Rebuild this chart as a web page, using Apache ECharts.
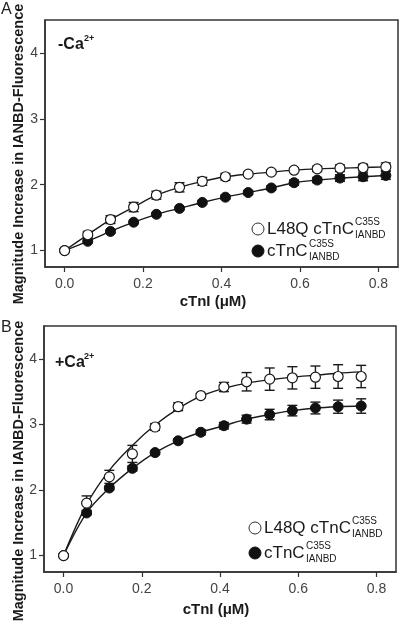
<!DOCTYPE html>
<html><head><meta charset="utf-8">
<script src="https://cdn.jsdelivr.net/npm/echarts@6/dist/echarts.min.js"></script>
<style>html,body{margin:0;padding:0;background:#fff}#c{width:400px;height:626px}</style>
</head><body><div id="c"></div>
<script>
// ---- Data ----
const xTop = [0, 0.059, 0.117, 0.176, 0.234, 0.293, 0.351, 0.41, 0.468, 0.527, 0.585, 0.644, 0.702, 0.761, 0.819];
const openTop = [1.0, 1.24, 1.47, 1.66, 1.84, 1.96, 2.05, 2.12, 2.16, 2.19, 2.22, 2.24, 2.25, 2.26, 2.27];
const openTopErr = [0, 0.05, 0.06, 0.07, 0.06, 0.07, 0.06, 0.05, 0.03, 0.03, 0.03, 0.04, 0.05, 0.05, 0.06];
const filledTop = [1.0, 1.14, 1.29, 1.43, 1.55, 1.64, 1.73, 1.81, 1.88, 1.95, 2.03, 2.07, 2.10, 2.12, 2.14];
const filledTopErr = [0, 0.02, 0.02, 0.02, 0.02, 0.02, 0.02, 0.03, 0.03, 0.03, 0.04, 0.04, 0.05, 0.06, 0.06];

const xBot = [0, 0.059, 0.117, 0.176, 0.234, 0.293, 0.351, 0.41, 0.468, 0.527, 0.585, 0.644, 0.702, 0.761];
const openBot = [1.0, 1.80, 2.20, 2.55, 2.96, 3.27, 3.44, 3.57, 3.65, 3.69, 3.71, 3.72, 3.73, 3.73];
const openBotErr = [0, 0.11, 0.10, 0.13, 0.05, 0.06, 0.03, 0.07, 0.14, 0.17, 0.17, 0.17, 0.18, 0.17];
const openBotFit = [1.0, 1.78, 2.30, 2.68, 2.99, 3.24, 3.43, 3.55, 3.63, 3.68, 3.72, 3.75, 3.78, 3.80];
const filledBot = [1.0, 1.65, 2.03, 2.33, 2.57, 2.75, 2.88, 2.98, 3.08, 3.15, 3.21, 3.25, 3.27, 3.28];
const filledBotErr = [0, 0.03, 0.03, 0.04, 0.03, 0.03, 0.04, 0.05, 0.06, 0.08, 0.08, 0.09, 0.10, 0.11];

const xTicks = [0, 0.2, 0.4, 0.6, 0.8];
const yTicks = [1, 2, 3, 4];
const yTitle = 'Magnitude Increase in IANBD-Fluorescence';
const xTitle = 'cTnI (\u03bcM)';

// ---- Chart ----
const FONT = '"Liberation Sans", Arial, sans-serif';
const INK = '#1a1a1a';
const chart = echarts.init(document.getElementById('c'), null, {renderer: 'canvas'});

function pairs(xs, ys) { return xs.map((x, i) => [x, ys[i]]); }
function triples(xs, ys, es) { return xs.map((x, i) => [x, ys[i], es[i]]); }

function errSeries(idx, xs, ys, es) {
  return {
    type: 'custom', xAxisIndex: idx, yAxisIndex: idx, z: 3,
    data: triples(xs, ys, es),
    renderItem: function (params, api) {
      const x = api.value(0), y = api.value(1), e = api.value(2);
      if (!e) return null;
      const hi = api.coord([x, y + e]);
      const lo = api.coord([x, y - e]);
      const w = 5;
      const st = {stroke: INK, lineWidth: 1.4};
      return {type: 'group', children: [
        {type: 'line', shape: {x1: hi[0], y1: hi[1], x2: lo[0], y2: lo[1]}, style: st},
        {type: 'line', shape: {x1: hi[0] - w, y1: hi[1], x2: hi[0] + w, y2: hi[1]}, style: st},
        {type: 'line', shape: {x1: lo[0] - w, y1: lo[1], x2: lo[0] + w, y2: lo[1]}, style: st}
      ]};
    }
  };
}
function fitSeries(idx, xs, ys) {
  return {type: 'line', xAxisIndex: idx, yAxisIndex: idx, z: 2, smooth: 0.35, showSymbol: false,
    data: pairs(xs, ys), lineStyle: {color: INK, width: 1.4}, silent: true};
}
function pointSeries(idx, xs, ys, open) {
  return {type: 'scatter', xAxisIndex: idx, yAxisIndex: idx, z: 4, symbol: 'circle', symbolSize: 10,
    data: pairs(xs, ys),
    itemStyle: open ? {color: '#fff', borderColor: INK, borderWidth: 1.2, opacity: 1} : {color: '#111', borderColor: '#111', borderWidth: 1, opacity: 1}};
}
function xAx(idx) {
  return {type: 'value', gridIndex: idx, min: -0.05, max: 0.85,
    axisLine: {show: true, onZero: false, lineStyle: {color: '#333', width: 1.5}},
    axisTick: {show: true, customValues: xTicks, length: 5, lineStyle: {color: '#333', width: 1.2}},
    axisLabel: {customValues: xTicks, formatter: v => v.toFixed(1), color: '#444', fontSize: 14, fontFamily: FONT, margin: 10},
    splitLine: {show: false}};
}
function yAx(idx) {
  return {type: 'value', gridIndex: idx, min: 0.75, max: 4.5,
    axisLine: {show: true, onZero: false, lineStyle: {color: '#333', width: 1.5}},
    axisTick: {show: true, customValues: yTicks, length: 5, lineStyle: {color: '#333', width: 1.2}},
    axisLabel: {customValues: yTicks, formatter: v => String(v), color: '#444', fontSize: 14, fontFamily: FONT, margin: 7},
    splitLine: {show: false}};
}

function txt(x, y, s, size, weight, extra) {
  return Object.assign({type: 'text', x: x, y: y, style: Object.assign({text: s, fill: INK, fontSize: size, fontWeight: weight || 'normal', fontFamily: FONT, textVerticalAlign: 'middle'}, extra || {})});
}
function legendBlock(cx, y1, y2) {
  const tx = cx + 9;
  return [
    {type: 'circle', shape: {cx: cx, cy: y1, r: 6}, style: {fill: '#fff', stroke: '#333', lineWidth: 1}},
    txt(tx, y1, 'L48Q cTnC', 17),
    txt(tx + 88, y1 - 7, 'C35S', 10),
    txt(tx + 88, y1 + 6, 'IANBD', 10),
    {type: 'circle', shape: {cx: cx, cy: y2, r: 6}, style: {fill: '#111', stroke: '#111', lineWidth: 1}},
    txt(tx, y2, 'cTnC', 17),
    txt(tx + 42, y2 - 7, 'C35S', 10),
    txt(tx + 42, y2 + 6, 'IANBD', 10)
  ];
}
function yTitleText(cy) {
  return {type: 'text', x: 18.5, y: cy, rotation: Math.PI / 2,
    style: {text: yTitle, fill: INK, fontSize: 14.5, fontWeight: 'bold', fontFamily: FONT, textAlign: 'center', textVerticalAlign: 'middle'}};
}

const graphics = [
  txt(1, 10, 'A', 16, 'normal', {fill: '#222'}),
  txt(1, 328, 'B', 16, 'normal', {fill: '#222'}),
  txt(58, 45, '-Ca', 16, 'bold'),
  txt(84, 39, '2+', 9, 'bold'),
  txt(55, 363, '+Ca', 16, 'bold'),
  txt(84, 357, '2+', 9, 'bold'),
  txt(213, 302, xTitle, 15, 'bold', {textAlign: 'center'}),
  txt(216, 610, xTitle, 15, 'bold', {textAlign: 'center'}),
  yTitleText(154),
  yTitleText(471)
].concat(legendBlock(258, 229, 251)).concat(legendBlock(255, 528, 553));

chart.setOption({
  animation: false,
  backgroundColor: '#fff',
  grid: [
    {left: 45, top: 20, width: 353, height: 247, show: true, borderColor: '#333', borderWidth: 1.5, containLabel: false},
    {left: 44, top: 326, width: 352, height: 246, show: true, borderColor: '#333', borderWidth: 1.5, containLabel: false}
  ],
  xAxis: [xAx(0), xAx(1)],
  yAxis: [yAx(0), yAx(1)],
  series: [
    fitSeries(0, xTop, openTop), fitSeries(0, xTop, filledTop),
    errSeries(0, xTop, openTop, openTopErr), errSeries(0, xTop, filledTop, filledTopErr),
    pointSeries(0, xTop, filledTop, false), pointSeries(0, xTop, openTop, true),
    fitSeries(1, xBot, openBotFit), fitSeries(1, xBot, filledBot),
    errSeries(1, xBot, openBot, openBotErr), errSeries(1, xBot, filledBot, filledBotErr),
    pointSeries(1, xBot, filledBot, false), pointSeries(1, xBot, openBot, true)
  ],
  graphic: graphics
});
</script></body></html>
